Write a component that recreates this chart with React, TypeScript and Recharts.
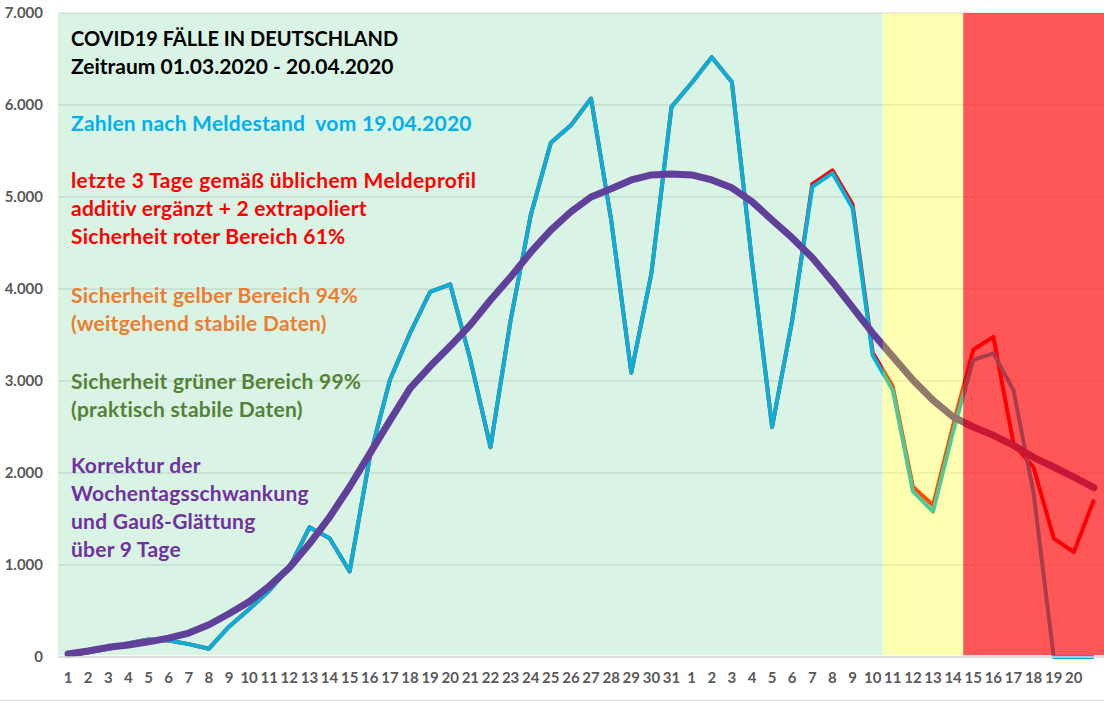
import React from "react";
import {
  LineChart,
  Line,
  XAxis,
  YAxis,
  CartesianGrid,
  ReferenceArea,
} from "recharts";

// Tage: 1.-31. März, 1.-20. April, plus ein extrapolierter Tag ohne Beschriftung
const days = [
  "1", "2", "3", "4", "5", "6", "7", "8", "9", "10",
  "11", "12", "13", "14", "15", "16", "17", "18", "19", "20",
  "21", "22", "23", "24", "25", "26", "27", "28", "29", "30", "31",
  "1", "2", "3", "4", "5", "6", "7", "8", "9", "10",
  "11", "12", "13", "14", "15", "16", "17", "18", "19", "20", "",
];

// Zahlen nach Meldestand vom 19.04.2020
const reported = [
  20, 50, 90, 150, 190, 180, 140, 90, 330, 520,
  720, 970, 1410, 1290, 930, 2170, 3010, 3520, 3970, 4050,
  3230, 2280, 3660, 4800, 5590, 5780, 6070, 4750, 3090, 4170, 5980,
  6240, 6520, 6250, 4300, 2500, 3660, 5110, 5260, 4880, 3280,
  2900, 1800, 1580, 2450, 3230, 3300, 2900, 1780, 0, 0, 0,
];

// letzte Tage gemäß Meldeprofil ergänzt + extrapoliert
const corrected = [
  20, 50, 90, 150, 190, 180, 140, 90, 330, 520,
  720, 970, 1410, 1290, 930, 2170, 3010, 3520, 3970, 4050,
  3230, 2280, 3660, 4800, 5590, 5780, 6070, 4750, 3090, 4170, 5980,
  6240, 6520, 6250, 4300, 2500, 3660, 5140, 5290, 4920, 3310,
  2940, 1850, 1650, 2520, 3340, 3480, 2320, 2060, 1290, 1140, 1710,
];

// Wochentagskorrektur + Gauß-Glättung über 9 Tage
const smoothed = [
  33, 65, 105, 130, 165, 205, 260, 350, 470, 600,
  770, 970, 1230, 1520, 1850, 2210, 2570, 2920, 3160, 3380,
  3610, 3880, 4130, 4400, 4640, 4840, 5000, 5090, 5185, 5240, 5250,
  5240, 5185, 5100, 4950, 4750, 4555, 4340, 4080, 3800, 3520,
  3265, 3010, 2790, 2610, 2500, 2410, 2300, 2170, 2065, 1955, 1840,
];

const yTicks = [0, 1000, 2000, 3000, 4000, 5000, 6000, 7000];

const data = days.map((day, i) => ({
  idx: i,
  day,
  reported: reported[i],
  corrected: corrected[i],
  smoothed: smoothed[i],
}));

const notes = [
  { text: "COVID19 FÄLLE IN DEUTSCHLAND", color: "#000000", y: 46, size: 20, spacing: 0 },
  { text: "Zeitraum 01.03.2020 - 20.04.2020", color: "#000000", y: 74, size: 21, spacing: 0 },
  { text: "Zahlen nach Meldestand  vom 19.04.2020", color: "#00B0F0", y: 131, size: 21, spacing: 0.25 },
  { text: "letzte 3 Tage gemäß üblichem Meldeprofil", color: "#FF0000", y: 188, size: 21, spacing: 0.4 },
  { text: "additiv ergänzt + 2 extrapoliert", color: "#FF0000", y: 216, size: 21, spacing: 0.25 },
  { text: "Sicherheit roter Bereich 61%", color: "#FF0000", y: 244, size: 21, spacing: 0.25 },
  { text: "Sicherheit gelber Bereich 94%", color: "#ED7D31", y: 303, size: 21, spacing: 0.25 },
  { text: "(weitgehend stabile Daten)", color: "#ED7D31", y: 331, size: 21, spacing: 0.25 },
  { text: "Sicherheit grüner Bereich 99%", color: "#548235", y: 389, size: 21, spacing: 0.25 },
  { text: "(praktisch stabile Daten)", color: "#548235", y: 417, size: 21, spacing: 0.25 },
  { text: "Korrektur der", color: "#7030A0", y: 473, size: 21, spacing: 0.25 },
  { text: "Wochentagsschwankung", color: "#7030A0", y: 501, size: 21, spacing: 0.25 },
  { text: "und Gauß-Glättung", color: "#7030A0", y: 529, size: 21, spacing: 0.25 },
  { text: "über 9 Tage", color: "#7030A0", y: 557, size: 21, spacing: 0.25 },
];

const font = "Lato, 'Open Sans', sans-serif";

const formatThousands = (v: number) =>
  String(v).replace(/\B(?=(\d{3})+(?!\d))/g, ".");

const tickStyle = {
  fill: "#595959",
  fontSize: 15,
  fontWeight: "bold" as const,
  fontFamily: font,
};

const App = () => {
  return (
    <div style={{ position: "absolute", left: 0, top: 0, width: 1104, height: 701 }}>
      <LineChart
        width={1104}
        height={701}
        data={data}
        margin={{ top: 13, right: 0, left: 0, bottom: 0 }}
      >
        <CartesianGrid vertical={false} stroke="#D9D9D9" />
        <ReferenceArea
          x1={0}
          x2={40}
          y1={20}
          y2={7000}
          fill="#00B050"
          fillOpacity={0.15}
          stroke="none"
          zIndex={-50}
        />
        <Line
          dataKey="corrected"
          stroke="#FF0000"
          strokeWidth={4}
          dot={false}
          isAnimationActive={false}
          strokeLinejoin="round"
        />
        <Line
          dataKey="reported"
          stroke="#06B0D8"
          strokeWidth={4}
          dot={false}
          isAnimationActive={false}
          strokeLinejoin="round"
        />
        <Line
          dataKey="smoothed"
          stroke="#60409A"
          strokeWidth={7}
          dot={false}
          isAnimationActive={false}
          strokeLinejoin="round"
          strokeLinecap="round"
        />
        <ReferenceArea
          x1={41}
          x2={44}
          y1={20}
          y2={7000}
          fill="#FFFF00"
          fillOpacity={0.3}
          stroke="none"
          zIndex={450}
        />
        <ReferenceArea
          x1={45}
          x2={51}
          y1={20}
          y2={7000}
          fill="#FF0000"
          fillOpacity={0.66}
          stroke="none"
          zIndex={450}
        />
        <XAxis
          dataKey="idx"
          type="category"
          scale="band"
          interval={0}
          height={44}
          tickFormatter={(v: number) => days[v]}
          tick={tickStyle}
          tickLine={false}
          tickSize={0}
          tickMargin={15}
          axisLine={{ stroke: "#D9D9D9", strokeWidth: 1.5 }}
        />
        <YAxis
          width={58}
          domain={[0, 7000]}
          ticks={yTicks}
          tickFormatter={formatThousands}
          tick={tickStyle}
          tickLine={false}
          tickSize={0}
          tickMargin={15}
          axisLine={false}
        />
      </LineChart>
      <svg
        width={1104}
        height={701}
        style={{ position: "absolute", left: 0, top: 0, pointerEvents: "none" }}
      >
        {notes.map((n) => (
          <text
            key={n.text}
            x={71}
            y={n.y}
            fill={n.color}
            fontFamily={font}
            fontWeight="bold"
            fontSize={n.size}
            letterSpacing={n.spacing}
            style={{ whiteSpace: "pre" }}
          >
            {n.text}
          </text>
        ))}
      </svg>
      <div
        style={{
          position: "absolute",
          left: 0,
          top: 700,
          width: 1104,
          height: 1,
          background: "#D9D9D9",
        }}
      />
    </div>
  );
};

export default App;
